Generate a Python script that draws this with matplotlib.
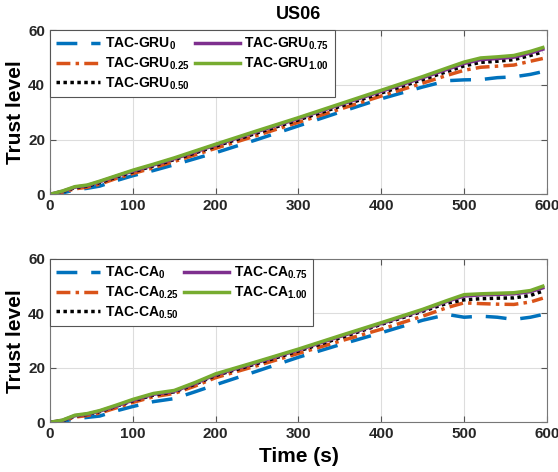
import matplotlib
matplotlib.use("Agg")
import matplotlib.pyplot as plt

plt.rcParams['font.family'] = ['Liberation Sans', 'DejaVu Sans']
plt.rcParams['font.weight'] = 'bold'
plt.rcParams['mathtext.fontset'] = 'custom'
plt.rcParams['mathtext.rm'] = 'Liberation Sans:bold'
plt.rcParams['mathtext.bf'] = 'Liberation Sans:bold'

# time axis (s)
time = [0, 15, 30, 45, 60, 80, 100, 125, 150, 175, 200, 250, 300, 350, 400,
        450, 480, 500, 520, 540, 560, 580, 595]

# US06 - TAC-GRU
gru_0 = [0, 0.5, 1.6, 2.2, 3.0, 5.0, 6.8, 8.7, 10.8, 13.0, 15.2, 20.0, 25.0, 30.0, 34.9,
         39.2, 41.5, 41.8, 41.9, 42.6, 42.9, 43.8, 44.8]
gru_025 = [0, 0.8, 2.0, 2.6, 3.7, 5.8, 7.6, 9.7, 12.0, 14.4, 16.8, 21.5, 26.3, 31.1, 35.9,
           40.6, 43.5, 45.3, 46.4, 46.8, 47.2, 48.6, 49.6]
gru_050 = [0, 1.0, 2.4, 3.0, 4.3, 6.3, 8.2, 10.4, 12.7, 15.1, 17.6, 22.4, 27.2, 32.1, 37.0,
           41.9, 44.9, 46.9, 48.2, 48.6, 49.2, 50.7, 52.0]
gru_075 = [0, 1.1, 2.6, 3.2, 4.6, 6.6, 8.5, 10.7, 13.0, 15.5, 18.0, 22.9, 27.7, 32.7, 37.6,
           42.6, 45.7, 47.8, 49.2, 49.6, 50.1, 51.6, 53.0]
gru_100 = [0, 1.2, 2.8, 3.4, 4.8, 6.8, 8.8, 11.0, 13.3, 15.8, 18.3, 23.2, 28.0, 33.0, 38.0,
           43.0, 46.2, 48.3, 49.8, 50.2, 50.7, 52.2, 53.6]

# US06 - TAC-CA
ca_0 = [0, 0.3, 1.3, 1.8, 2.3, 4.2, 5.8, 7.6, 8.7, 11.2, 13.8, 18.8, 23.9, 28.5, 32.9,
        37.5, 39.6, 38.6, 39.0, 38.6, 37.8, 38.6, 39.6]
ca_025 = [0, 0.5, 1.9, 2.5, 3.4, 5.3, 7.3, 9.4, 10.6, 13.3, 16.4, 20.8, 25.3, 29.8, 34.2,
          39.0, 42.2, 43.9, 43.6, 43.4, 43.3, 44.2, 45.6]
ca_050 = [0, 0.6, 2.3, 2.9, 3.9, 5.9, 7.9, 10.0, 11.2, 14.0, 17.2, 21.6, 26.2, 31.0, 36.0,
          40.8, 43.8, 45.0, 45.4, 45.6, 45.7, 46.6, 48.2]
ca_075 = [0, 0.7, 2.4, 3.0, 4.1, 6.0, 8.1, 10.3, 11.4, 14.3, 17.5, 22.0, 26.6, 31.5, 36.3,
          41.2, 44.5, 46.4, 46.8, 47.0, 47.2, 48.0, 49.4]
ca_100 = [0, 0.8, 2.6, 3.2, 4.3, 6.3, 8.4, 10.6, 11.7, 14.6, 17.8, 22.3, 26.9, 31.8, 36.6,
          41.5, 44.8, 46.9, 47.2, 47.4, 47.6, 48.4, 50.0]

suffixes = ['0', '0.25', '0.50', '0.75', '1.00']
colors = ['#0072BD', '#D95319', 'black', '#7E2F8E', '#77AC30']
styles = [(0, (6, 4)), (0, (4, 1.5, 1, 1.5)), (0, (1, 1)), '-', '-']

fig = plt.figure(figsize=(5.58, 4.72), dpi=100)
ax1 = fig.add_axes([0.0896, 0.5883, 0.8906, 0.3481])
ax2 = fig.add_axes([0.0896, 0.1053, 0.8906, 0.3460])

panels = [(ax1, 'TAC-GRU', [gru_0, gru_025, gru_050, gru_075, gru_100]),
          (ax2, 'TAC-CA', [ca_0, ca_025, ca_050, ca_075, ca_100])]

for ax, name, series in panels:
    for ys, sfx, c, ls in zip(series, suffixes, colors, styles):
        ax.plot(time, ys, color=c, linestyle=ls, linewidth=2.5,
                label=name + r'$_{\mathbf{' + sfx + '}}$')
    ax.set_xlim(0, 600)
    ax.set_ylim(0, 60)
    ax.set_xticks([0, 100, 200, 300, 400, 500, 600])
    ax.set_yticks([0, 20, 40, 60])
    ax.grid(True, color='#dddddd', linewidth=0.8)
    ax.set_axisbelow(True)
    ax.tick_params(direction='in', top=True, right=True, labelsize=11,
                   color='#555555', length=4)
    for lab in ax.get_xticklabels() + ax.get_yticklabels():
        lab.set_fontweight('bold')
        lab.set_color('#262626')
    for sp in ax.spines.values():
        sp.set_color('#777777')
    ax.set_ylabel('Trust level', fontsize=15, fontweight='bold', labelpad=2)
    leg = ax.legend(loc='upper left', bbox_to_anchor=(0, 1), borderaxespad=0,
                    ncol=2, fontsize=10, handlelength=3.2, columnspacing=0.4,
                    handletextpad=0.35, labelspacing=0.25, fancybox=False,
                    framealpha=1, edgecolor='#555555', borderpad=0.4)
    leg.get_frame().set_linewidth(0.8)
    for t in leg.get_texts():
        t.set_fontweight('bold')

ax1.set_title('US06', fontsize=13, fontweight='bold', pad=8)
ax2.set_xlabel('Time (s)', fontsize=15, fontweight='bold', labelpad=4)

fig.savefig('out.png', dpi=100)
